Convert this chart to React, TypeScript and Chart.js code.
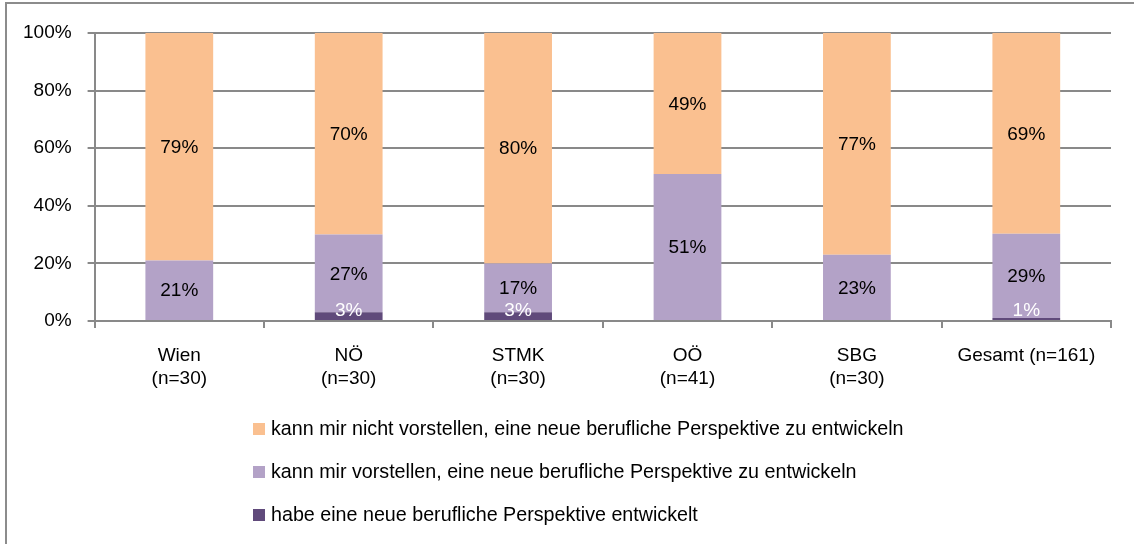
import React, { useEffect, useRef } from "react";
import { Chart, registerables } from "chart.js";

Chart.register(...registerables);

// ---- Data ----
const categories: (string | string[])[] = [
  ["Wien", "(n=30)"],
  ["NÖ", "(n=30)"],
  ["STMK", "(n=30)"],
  ["OÖ", "(n=41)"],
  ["SBG", "(n=30)"],
  "Gesamt (n=161)",
];
const entwickelt = [0, 3, 3, 0, 0, 1];
const vorstellbar = [21, 27, 17, 51, 23, 29];
const nichtVorstellbar = [79, 70, 80, 49, 77, 69];
const seriesNames = [
  "habe eine neue berufliche Perspektive entwickelt",
  "kann mir vorstellen, eine neue berufliche Perspektive zu entwickeln",
  "kann mir nicht vorstellen, eine neue berufliche Perspektive zu entwickeln",
];
const seriesColors = ["#604A7B", "#B3A2C7", "#FAC090"];
const labelColors = ["#FFFFFF", "#000000", "#000000"];
const yTickValues = [0, 20, 40, 60, 80, 100];

const rawSeries = [entwickelt, vorstellbar, nichtVorstellbar];
// 100% stacked: normalise each category to its total
const totals = categories.map((_, j) => rawSeries.reduce((s, arr) => s + arr[j], 0));
const normSeries = rawSeries.map((arr) => arr.map((v, j) => (v / totals[j]) * 100));

const FONT = '"Liberation Sans", Arial, sans-serif';
const FS = 19;
const LEGEND_FS = 19.7;
const GRID = "#898989";

const valueLabelPlugin = {
  id: "valueLabels",
  afterDatasetsDraw(chart: any) {
    const ctx = chart.ctx;
    ctx.save();
    ctx.font = `${FS}px ${FONT}`;
    ctx.textAlign = "center";
    ctx.textBaseline = "middle";
    chart.data.datasets.forEach((_: any, i: number) => {
      const meta = chart.getDatasetMeta(i);
      meta.data.forEach((bar: any, j: number) => {
        const raw = rawSeries[i][j];
        if (!raw) return;
        const p = bar.getProps(["x", "y", "base"], true);
        let cy = (p.y + p.base) / 2 + 1;
        cy = Math.min(cy, chart.chartArea.bottom - 10);
        ctx.fillStyle = labelColors[i];
        ctx.fillText(raw + "%", p.x, cy);
      });
    });
    ctx.restore();
  },
};

const legendPlugin = {
  id: "verticalLegend",
  afterDraw(chart: any) {
    const ctx = chart.ctx;
    ctx.save();
    ctx.font = `${LEGEND_FS}px ${FONT}`;
    ctx.textBaseline = "middle";
    ctx.textAlign = "left";
    const left = 253;
    const rows = [429, 472, 515];
    const order = [2, 1, 0];
    order.forEach((si, r) => {
      const y = rows[r];
      ctx.fillStyle = seriesColors[si];
      ctx.fillRect(left, y - 6, 12, 12);
      ctx.fillStyle = "#000";
      ctx.fillText(seriesNames[si], left + 18, y + 1);
    });
    ctx.restore();
  },
};

export default function App() {
  const canvasRef = useRef<HTMLCanvasElement | null>(null);

  useEffect(() => {
    if (!canvasRef.current) return;
    Chart.defaults.font.family = FONT;
    const chart = new Chart(canvasRef.current, {
      type: "bar",
      data: {
        labels: categories as any,
        datasets: normSeries.map((data, i) => ({
          label: seriesNames[i],
          data,
          backgroundColor: seriesColors[i],
          borderWidth: 0,
          categoryPercentage: 1,
          barPercentage: 0.4,
        })),
      },
      options: {
        responsive: false,
        animation: false,
        layout: { padding: { left: 7, top: 33, right: 23, bottom: 138 } },
        plugins: {
          legend: { display: false },
          tooltip: { enabled: false },
          title: { display: false },
        },
        scales: {
          x: {
            stacked: true,
            grid: {
              display: true,
              drawOnChartArea: false,
              drawTicks: true,
              tickLength: 7,
              color: GRID,
              lineWidth: 2,
              offset: true,
            },
            border: { display: true, color: GRID, width: 2 },
            ticks: {
              color: "#000",
              padding: 16,
              maxRotation: 0,
              autoSkip: false,
              font: { size: FS, family: FONT, lineHeight: 23 / FS },
            },
          },
          y: {
            stacked: true,
            min: 0,
            max: 100,
            afterBuildTicks: (axis: any) => {
              axis.ticks = yTickValues.map((v) => ({ value: v }));
            },
            grid: {
              color: GRID,
              lineWidth: 2,
              tickLength: 7,
              drawTicks: true,
            },
            border: { display: true, color: GRID, width: 2 },
            ticks: {
              color: "#000",
              padding: 16,
              font: { size: FS, family: FONT },
              callback: (v: any) => v + "%",
            },
          },
        },
      },
      plugins: [valueLabelPlugin, legendPlugin],
    });
    return () => chart.destroy();
  }, []);

  return (
    <div
      style={{
        position: "absolute",
        left: 0,
        top: 0,
        width: 1134,
        height: 544,
        overflow: "hidden",
        background: "#fff",
      }}
    >
      <div
        style={{
          position: "absolute",
          left: 5,
          top: 2,
          width: 1200,
          height: 700,
          border: "2px solid #8c8c8c",
          boxSizing: "border-box",
        }}
      />
      <canvas
        ref={canvasRef}
        width={1134}
        height={544}
        style={{ position: "absolute", left: 0, top: 0, width: 1134, height: 544 }}
      />
    </div>
  );
}
